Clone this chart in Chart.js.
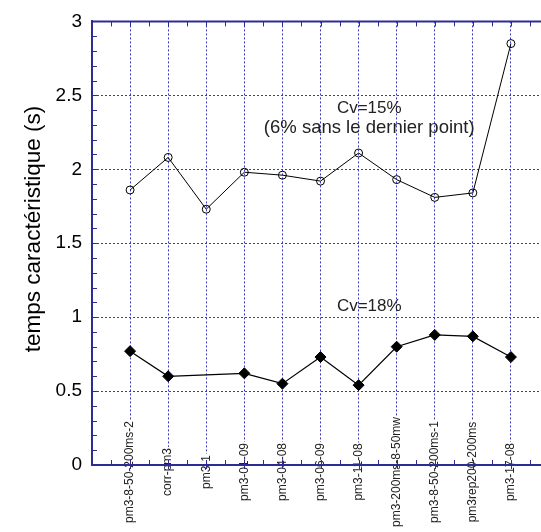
<!DOCTYPE html>
<html><head><meta charset="utf-8">
<script src="https://cdn.jsdelivr.net/npm/chart.js@4/dist/chart.umd.min.js"></script>
<style>
html,body{margin:0;padding:0;overflow:hidden;background:#fff;width:541px;height:532px}
#wrap{position:relative;width:560px;height:532px}
canvas{display:block}
</style></head>
<body><div id="wrap"><canvas id="c" width="560" height="532"></canvas></div>
<script>
const categories = ['pm3-8-50-200ms-2','corr-pm3','pm3-1','pm3-01-09','pm3-04-08','pm3-06-09','pm3-11-08','pm3-200ms-8-50mw','pm3-8-50-200ms-1','pm3rep200-200ms','pm3-17-08'];
const seriesUpper = [1.86, 2.08, 1.73, 1.98, 1.96, 1.92, 2.11, 1.93, 1.81, 1.84, 2.85];
const seriesLower = [0.77, 0.60, null, 0.62, 0.55, 0.73, 0.54, 0.80, 0.88, 0.87, 0.73];
const yAxisTitle = 'temps caractéristique (s)';
const noteUpper = ['Cv=15%', '(6% sans le dernier point)'];
const noteLower = ['Cv=18%'];

const FONT = 'Arial, "Liberation Sans", sans-serif';
const AXIS = '#2c2c96';
const GRID = '#3a3ab8';

const decor = {
  id: 'decor',
  afterDraw(chart) {
    const ctx = chart.ctx;
    const xs = chart.scales.x, ys = chart.scales.y;
    const ca = chart.chartArea;
    ctx.save();
    // x category labels (rotated, centred just below the axis)
    ctx.font = '12px ' + FONT;
    const labY = ca.bottom + 7;
    categories.forEach((c, i) => {
      const px = xs.getPixelForValue(i);
      const w = ctx.measureText(c).width;
      ctx.save();
      ctx.translate(px, labY);
      ctx.rotate(-Math.PI / 2);
      ctx.fillStyle = '#fff';
      ctx.fillRect(-w / 2 - 1, -6, w + 2, 12);
      ctx.fillStyle = '#222';
      ctx.textAlign = 'center';
      ctx.textBaseline = 'middle';
      ctx.fillText(c, 0, 0);
      ctx.restore();
    });
    // axis frame lines (top + redraw bottom)
    ctx.strokeStyle = AXIS;
    ctx.lineWidth = 2;
    ctx.beginPath();
    ctx.moveTo(ca.left - 1, ca.top); ctx.lineTo(ca.right, ca.top);
    ctx.moveTo(ca.left - 1, ca.bottom); ctx.lineTo(ca.right, ca.bottom);
    ctx.stroke();
    // minor ticks
    ctx.lineWidth = 1;
    ctx.beginPath();
    for (let k = 1; k < 30; k++) {
      const py = Math.round(ys.getPixelForValue(k / 10)) + 0.5;
      ctx.moveTo(ca.left, py); ctx.lineTo(ca.left + 5, py);
    }
    for (let k = -1; k <= 21; k++) {
      const v = k / 2;
      const px = Math.round(xs.getPixelForValue(v)) + 0.5;
      ctx.moveTo(px, ca.top); ctx.lineTo(px, ca.top + 5);
      ctx.moveTo(px, ca.bottom); ctx.lineTo(px, ca.bottom - 5);
      if (k % 2 === 0) { ctx.moveTo(px, ca.bottom); ctx.lineTo(px, ca.bottom + 4); }
    }
    ctx.stroke();
    // annotations
    ctx.fillStyle = '#222';
    ctx.textAlign = 'center';
    ctx.textBaseline = 'middle';
    const ax = xs.getPixelForValue(6.28);
    ctx.font = '17px ' + FONT;
    ctx.fillText(noteUpper[0], ax, ys.getPixelForValue(2.41));
    ctx.font = '18.5px ' + FONT;
    ctx.fillText(noteUpper[1], ax, ys.getPixelForValue(2.28));
    ctx.font = '17px ' + FONT;
    ctx.fillText(noteLower[0], ax, ys.getPixelForValue(1.075));
    // y axis title
    ctx.save();
    ctx.translate(34, 229);
    ctx.rotate(-Math.PI / 2);
    ctx.font = '22.5px ' + FONT;
    ctx.fillStyle = '#000';
    ctx.fillText(yAxisTitle, 0, 0);
    ctx.restore();
    ctx.restore();
  }
};

new Chart(document.getElementById('c'), {
  type: 'line',
  data: {
    datasets: [
      {
        data: categories.map((c, i) => ({x: i, y: seriesUpper[i]})),
        borderColor: '#000', borderWidth: 1, tension: 0,
        pointStyle: 'circle', pointRadius: 4, pointBorderWidth: 1,
        pointBorderColor: '#000', pointBackgroundColor: 'rgba(0,0,0,0)'
      },
      {
        data: categories.map((c, i) => ({x: i, y: seriesLower[i]})),
        spanGaps: true,
        borderColor: '#000', borderWidth: 1.2, tension: 0,
        pointStyle: 'rectRot', pointRadius: 5.5, pointBorderWidth: 1,
        pointBorderColor: '#000', pointBackgroundColor: '#000'
      }
    ]
  },
  options: {
    responsive: false, devicePixelRatio: 1, animation: false, events: [],
    layout: {padding: {left: 0, top: 18, right: 11, bottom: 0}},
    plugins: {legend: {display: false}, tooltip: {enabled: false}},
    scales: {
      x: {
        type: 'linear', min: -1, max: 11, position: 'bottom',
        afterFit: s => { s.height = 67; },
        ticks: {stepSize: 1, display: false},
        grid: {
          drawTicks: false, lineWidth: 1,
          color: c => (c.tick && c.tick.value >= 0 && c.tick.value <= 10) ? GRID : 'rgba(0,0,0,0)'
        },
        border: {display: true, color: AXIS, width: 2, dash: [2, 2]}
      },
      y: {
        type: 'linear', min: 0, max: 3, position: 'left',
        afterFit: s => { s.width = 92; },
        ticks: {stepSize: 0.5, padding: 10, color: '#000', font: {family: FONT, size: 19},
                callback: v => String(v)},
        grid: {
          drawTicks: false, lineWidth: 1,
          color: c => (c.tick && c.tick.value > 0 && c.tick.value < 3) ? GRID : 'rgba(0,0,0,0)'
        },
        border: {display: true, color: AXIS, width: 2, dash: [2, 2]}
      }
    }
  },
  plugins: [decor]
});
</script>
</body></html>
